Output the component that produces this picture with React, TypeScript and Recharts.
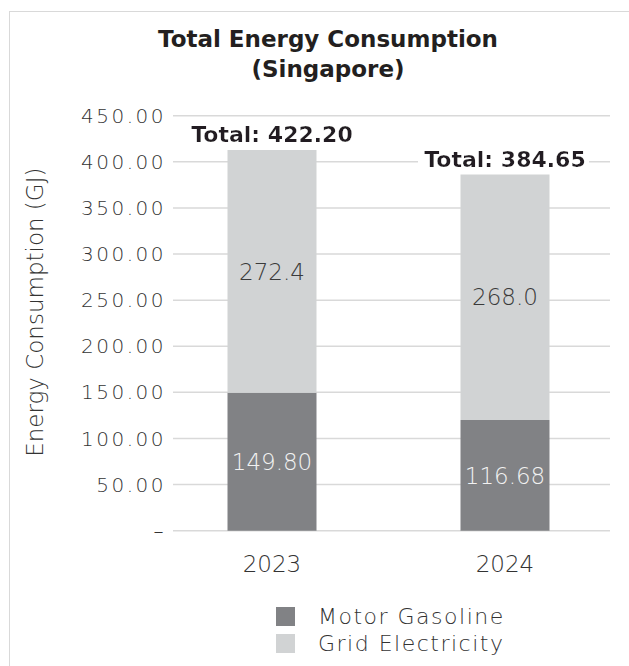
import React from 'react';
import { BarChart, Bar, XAxis, YAxis, CartesianGrid, LabelList, Legend } from 'recharts';

const years = ['2023', '2024'];
const motorGasoline = [149.6, 120.0];
const gridElectricity = [263.2, 266.2];
const motorGasolineLabels = ['149.80', '116.68'];
const gridElectricityLabels = ['272.4', '268.0'];
const totalLabels = ['Total: 422.20', 'Total: 384.65'];
const yTicks = [0, 50, 100, 150, 200, 250, 300, 350, 400, 450];

const seriesOrder = ['Motor Gasoline', 'Grid Electricity'];
const colors = { gas: '#818285', grid: '#d1d3d4' };

const data = years.map((y, i) => ({
  year: y,
  gas: motorGasoline[i],
  grid: gridElectricity[i],
  gasLabel: motorGasolineLabels[i],
  gridLabel: gridElectricityLabels[i],
  total: totalLabels[i],
}));

const FONT = "'DejaVu Sans', sans-serif";

const TotalLabel = (props: any) => {
  const { x, y, width, value } = props;
  return (
    <text
      x={x + width / 2}
      y={y - 8}
      textAnchor="middle"
      fontFamily={FONT}
      fontWeight={700}
      fontSize={22}
      fill="#231f20"
      filter="url(#labelBg)"
    >
      {value}
    </text>
  );
};

const YLabel = (props: any) => {
  const vb = props.viewBox || {};
  const cx = vb.x + 43;
  const cy = vb.y + vb.height / 2 - 11;
  return (
    <text
      x={cx}
      y={cy}
      transform={`rotate(-90, ${cx}, ${cy})`}
      textAnchor="middle"
      fontFamily={FONT}
      fontWeight={300}
      fontSize={23}
      fill="#333"
    >
      Energy Consumption (GJ)
    </text>
  );
};

const LegendContent = (props: any) => {
  const items = [...(props.payload || [])].sort(
    (a: any, b: any) => seriesOrder.indexOf(a.value) - seriesOrder.indexOf(b.value)
  );
  return (
    <div style={{ fontFamily: FONT }}>
      {items.map((p: any) => (
        <div key={p.value} style={{ display: 'flex', alignItems: 'center', height: 27 }}>
          <div style={{ width: 19, height: 19, background: p.color }} />
          <span
            style={{
              marginLeft: 23,
              fontSize: 22,
              fontWeight: 300,
              color: '#333',
              letterSpacing: 1.5,
              whiteSpace: 'nowrap',
            }}
          >
            {p.value}
          </span>
        </div>
      ))}
    </div>
  );
};

export default function App() {
  return (
    <div
      style={{
        position: 'fixed',
        left: 0,
        top: 0,
        width: 629,
        height: 666,
        overflow: 'hidden',
        background: '#fff',
      }}
    >
      <svg width={0} height={0} style={{ position: 'absolute' }}>
        <defs>
          <filter id="labelBg" x="-0.035" y="0" width="1.05" height="1">
            <feFlood floodColor="#ffffff" />
            <feComposite in="SourceGraphic" operator="over" />
          </filter>
        </defs>
      </svg>
      <div
        style={{
          position: 'absolute',
          left: 9,
          top: 11,
          width: 700,
          height: 700,
          borderLeft: '1.5px solid #d9d9d9',
          borderTop: '1.5px solid #d9d9d9',
        }}
      />
      <div
        style={{
          position: 'absolute',
          left: 128,
          top: 24,
          width: 400,
          textAlign: 'center',
          fontFamily: FONT,
          fontWeight: 700,
          fontSize: 23,
          lineHeight: '30px',
          color: '#231f20',
        }}
      >
        Total Energy Consumption
        <br />
        (Singapore)
      </div>
      <div style={{ position: 'absolute', left: 0, top: 0 }}>
        <BarChart
          width={629}
          height={666}
          data={data}
          margin={{ top: 115.7, right: 19, left: 0, bottom: 95.3 }}
        >
          <CartesianGrid vertical={false} stroke="#d9d9d9" strokeWidth={1.5} />
          <XAxis
            dataKey="year"
            axisLine={false}
            tickLine={false}
            tickSize={0}
            tickMargin={24.7}
            height={40}
            padding={{ left: -17.5, right: -11.5 }}
            tick={{ fontFamily: FONT, fontSize: 23, fontWeight: 300, fill: '#333' }}
          />
          <YAxis
            domain={[0, 450]}
            ticks={yTicks}
            axisLine={false}
            tickLine={false}
            tickSize={0}
            tickMargin={7}
            width={173}
            interval={0}
            tickFormatter={(v: number) => (v === 0 ? '–' : v.toFixed(2))}
            tick={{ fontFamily: FONT, fontSize: 20, fontWeight: 300, fill: '#333', letterSpacing: 2.5 }}
            label={<YLabel />}
          />
          <Legend
            layout="vertical"
            align="center"
            verticalAlign="middle"
            wrapperStyle={{ top: 603, left: 276, width: 300, right: 'auto', bottom: 'auto' }}
            content={<LegendContent />}
          />
          <Bar dataKey="gas" name={seriesOrder[0]} stackId="a" fill={colors.gas} barSize={89} isAnimationActive={false}>
            <LabelList
              dataKey="gasLabel"
              position="center"
              fill="#f2f2f2"
              fontFamily={FONT}
              fontWeight={300}
              fontSize={23}
            />
          </Bar>
          <Bar dataKey="grid" name={seriesOrder[1]} stackId="a" fill={colors.grid} barSize={89} isAnimationActive={false}>
            <LabelList
              dataKey="gridLabel"
              position="center"
              fill="#3a3a3a"
              fontFamily={FONT}
              fontWeight={300}
              fontSize={23}
            />
            <LabelList dataKey="total" content={<TotalLabel />} />
          </Bar>
        </BarChart>
      </div>
    </div>
  );
}
